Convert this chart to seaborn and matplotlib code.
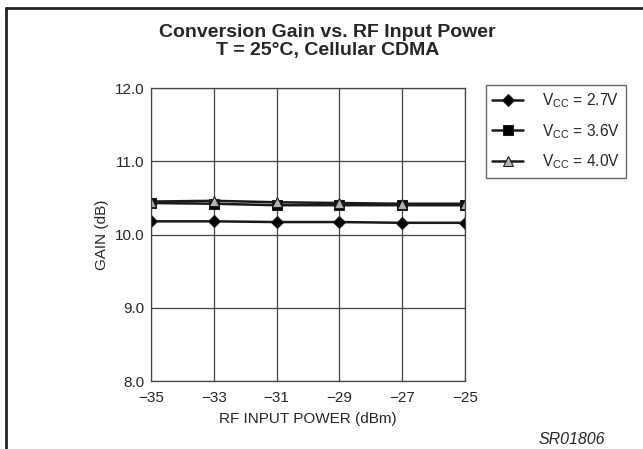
"""Conversion gain vs. RF input power, Cellular CDMA at 25 C."""

import matplotlib.pyplot as plt
import pandas as pd
import seaborn as sns
from matplotlib.lines import Line2D

rf_power = [-35, -33, -31, -29, -27, -25]
gain_27 = [10.18, 10.18, 10.17, 10.17, 10.16, 10.16]
gain_36 = [10.43, 10.42, 10.40, 10.40, 10.40, 10.40]
gain_40 = [10.45, 10.46, 10.44, 10.43, 10.42, 10.42]
labels = ["V$_{\\mathrm{CC}}$ = 2.7V", "V$_{\\mathrm{CC}}$ = 3.6V", "V$_{\\mathrm{CC}}$ = 4.0V"]

sns.set_style("white")
plt.rcParams["font.family"] = ["Liberation Sans", "DejaVu Sans"]
plt.rcParams["mathtext.fontset"] = "custom"
plt.rcParams["mathtext.rm"] = "Liberation Sans"
plt.rcParams["mathtext.it"] = "Liberation Sans:italic"

fig = plt.figure(figsize=(6.43, 4.49), dpi=100)
ax = fig.add_axes([0.2348, 0.1514, 0.4883, 0.6526])

styles = [
    dict(marker="D", markersize=6, markerfacecolor="black"),
    dict(marker="s", markersize=7, markerfacecolor="black"),
    dict(marker="^", markersize=7, markerfacecolor="#b0b0b0"),
]
for vals, label, st in zip([gain_27, gain_36, gain_40], labels, styles):
    df = pd.DataFrame({"power": rf_power, "gain": vals})
    sns.lineplot(data=df, x="power", y="gain", ax=ax, color="#1a1a1a",
                 linewidth=1.8, markeredgecolor="#1a1a1a", label=label, **st)

ax.set_xlim(-35, -25)
ax.set_ylim(8.0, 12.0)
ax.set_xticks(rf_power)
ax.set_yticks([8.0, 9.0, 10.0, 11.0, 12.0])
ax.set_yticklabels(["8.0", "9.0", "10.0", "11.0", "12.0"])
ax.grid(True, color="#444444", linewidth=0.9)
for sp in ax.spines.values():
    sp.set_color("#444444")
    sp.set_linewidth(0.9)
ax.tick_params(length=0, labelsize=11, pad=5)
ax.tick_params(axis="x", pad=7)
ax.set_xlabel("RF INPUT POWER (dBm)", fontsize=11, labelpad=5)
ax.set_ylabel("GAIN (dB)", fontsize=11, labelpad=4)

handles, hl = ax.get_legend_handles_labels()
ax.legend_.remove()
leg = fig.legend(handles, hl, loc="upper left", bbox_to_anchor=(0.756, 0.811),
                 borderaxespad=0, frameon=True, fancybox=False, edgecolor="#444444",
                 fontsize=11.2, handlelength=2.0, labelspacing=0.78, borderpad=0.4,
                 handletextpad=1.2)
leg.get_frame().set_linewidth(1.0)

fig.text(0.509, 0.9176, "Conversion Gain vs. RF Input Power", ha="center", va="baseline",
         fontsize=14, fontweight="bold")
fig.text(0.509, 0.8775, "T = 25\u00b0C, Cellular CDMA", ha="center", va="baseline",
         fontsize=14, fontweight="bold")
fig.text(0.889, 0.022, "SR01806", ha="center", va="center", fontsize=11.5, style="italic")

# open border frame (top and left edges)
fig.add_artist(Line2D([0.0093, 1.0], [0.982, 0.982], color="#222222", linewidth=2,
                      transform=fig.transFigure))
fig.add_artist(Line2D([0.0093, 0.0093], [0.0, 0.982], color="#222222", linewidth=2,
                      transform=fig.transFigure))

fig.savefig("out.png", dpi=100)
